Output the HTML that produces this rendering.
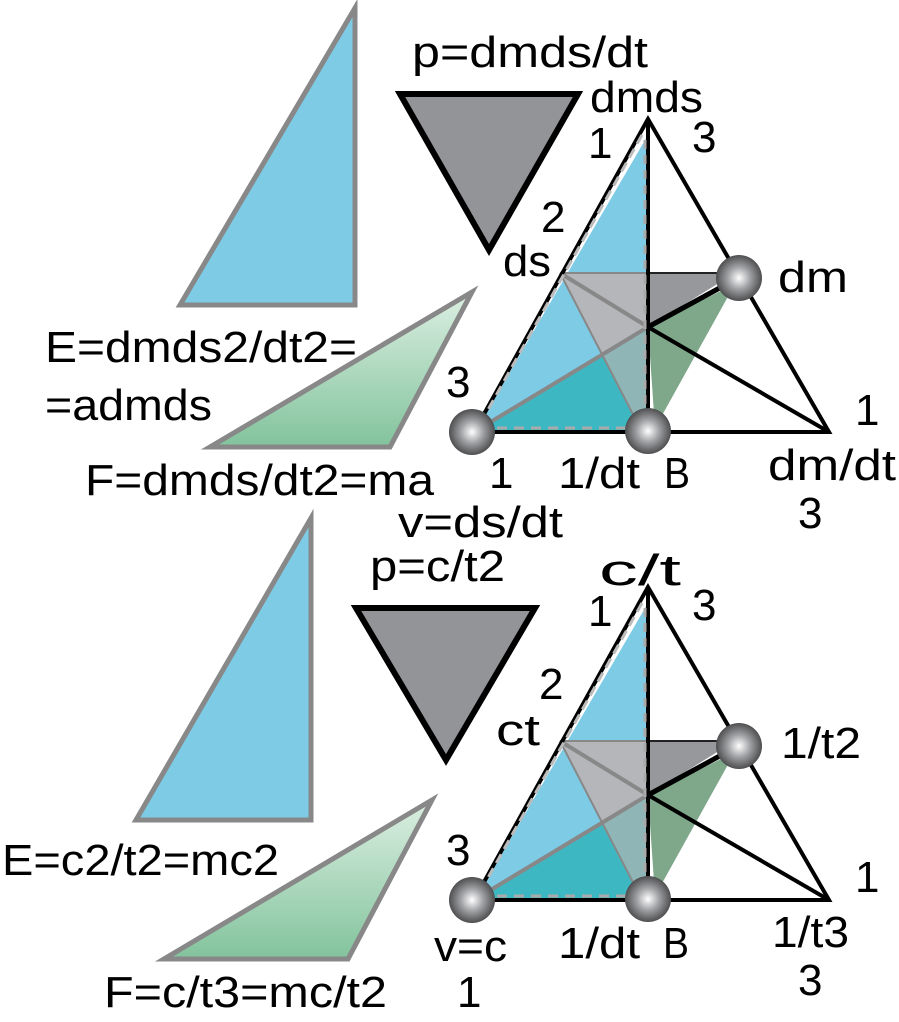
<!DOCTYPE html>
<html><head><meta charset="utf-8"><style>
html,body{margin:0;padding:0;background:#fff;}
svg{display:block;}
</style></head><body>
<svg width="899" height="1022" viewBox="0 0 899 1022" xmlns="http://www.w3.org/2000/svg">
<defs>
<radialGradient id="ball" cx="0.5" cy="0.5" r="0.55">
<stop offset="0" stop-color="#ffffff"/><stop offset="0.45" stop-color="#9fa0a3"/><stop offset="1" stop-color="#3e3e40"/>
</radialGradient>
<linearGradient id="grn" x1="0" y1="0" x2="0" y2="1">
<stop offset="0" stop-color="#dcefe2"/><stop offset="1" stop-color="#82c39c"/>
</linearGradient>
<g id="tet">
<polygon points="648,135 476,430 648,430" fill="#7ecbe6"/>
<polygon points="560,273 648,273 648,327 602,355" fill="#b4b6ba"/>
<polygon points="602,355 648,327 648,430 640,428" fill="#8fb5b6"/>
<polygon points="476,430 602,355 640,430" fill="#3db8c2"/>
<polygon points="648,273 735,273 648,327" fill="#97989c"/>
<polygon points="648,327 735,284 655,428" fill="#7fa88a"/>
<line x1="560" y1="273" x2="735" y2="273" stroke="#888" stroke-width="2"/>
<line x1="648" y1="273" x2="735" y2="273" stroke="#222" stroke-width="2"/>
<line x1="560" y1="273" x2="640" y2="428" stroke="#888" stroke-width="2"/>
<line x1="560" y1="273" x2="648" y2="327" stroke="#888" stroke-width="4"/>
<line x1="474" y1="432" x2="648" y2="327" stroke="#888" stroke-width="4"/>
<polygon points="648,119 474,432 829,432" fill="none" stroke="#000" stroke-width="4"/>
<line x1="648" y1="119" x2="648" y2="430" stroke="#000" stroke-width="4"/>
<line x1="645" y1="140" x2="645" y2="425" stroke="#aaa" stroke-width="3" stroke-dasharray="9,6"/>
<line x1="642" y1="135" x2="480" y2="424" stroke="#bbb" stroke-width="3" stroke-dasharray="10,6"/>
<line x1="480" y1="428" x2="640" y2="428" stroke="#aaa" stroke-width="3" stroke-dasharray="10,7"/>
<line x1="648" y1="327" x2="738" y2="278" stroke="#000" stroke-width="5"/>
<line x1="648" y1="327" x2="829" y2="432" stroke="#000" stroke-width="4"/>
<circle cx="472" cy="432" r="23" fill="url(#ball)"/>
<circle cx="648" cy="431" r="23" fill="url(#ball)"/>
<circle cx="739" cy="278" r="23" fill="url(#ball)"/>
</g>
</defs>
<polygon points="355,8 355,305 180,305" fill="#7ecbe6" stroke="#888" stroke-width="5"/>
<polygon points="472,292 390,447 210,447" fill="url(#grn)" stroke="#888" stroke-width="5"/>
<polygon points="400,94 578,94 489,250" fill="#939498" stroke="#000" stroke-width="6"/>
<use href="#tet"/>
<polygon points="311,518 311,820 136,820" fill="#7ecbe6" stroke="#888" stroke-width="5"/>
<polygon points="432,800 348,959 164,959" fill="url(#grn)" stroke="#888" stroke-width="5"/>
<polygon points="356,608 535,608 446,760" fill="#939498" stroke="#000" stroke-width="6"/>
<use href="#tet" transform="translate(0,468)"/>
<g font-family="Liberation Sans, sans-serif" font-size="44" fill="#000" style="font-family:'Liberation Sans',sans-serif;font-size:44px">
<text x="412" y="67" textLength="236" lengthAdjust="spacingAndGlyphs">p=dmds/dt</text>
<text x="590" y="112" textLength="113" lengthAdjust="spacingAndGlyphs">dmds</text>
<text x="588" y="158">1</text>
<text x="692" y="152">3</text>
<text x="541" y="232">2</text>
<text x="503" y="276" textLength="48" lengthAdjust="spacingAndGlyphs">ds</text>
<text x="778" y="292" textLength="70" lengthAdjust="spacingAndGlyphs">dm</text>
<text x="446" y="397">3</text>
<text x="855" y="425">1</text>
<text x="768" y="480" textLength="128" lengthAdjust="spacingAndGlyphs">dm/dt</text>
<text x="798" y="528">3</text>
<text x="489" y="488">1</text>
<text x="558" y="488" textLength="82" lengthAdjust="spacingAndGlyphs">1/dt</text>
<text x="664" y="488" textLength="26" lengthAdjust="spacingAndGlyphs">B</text>
<text x="45" y="362" textLength="312" lengthAdjust="spacingAndGlyphs">E=dmds2/dt2=</text>
<text x="45" y="420" textLength="167" lengthAdjust="spacingAndGlyphs">=admds</text>
<text x="85" y="495" textLength="349" lengthAdjust="spacingAndGlyphs">F=dmds/dt2=ma</text>
<text x="398" y="537" textLength="165" lengthAdjust="spacingAndGlyphs">v=ds/dt</text>
<text x="370" y="581" textLength="135" lengthAdjust="spacingAndGlyphs">p=c/t2</text>
<text x="599" y="585" textLength="82" lengthAdjust="spacingAndGlyphs">c/t</text>
<text x="588" y="626">1</text>
<text x="692" y="620">3</text>
<text x="539" y="699">2</text>
<text x="496" y="745" textLength="44" lengthAdjust="spacingAndGlyphs">ct</text>
<text x="781" y="758" textLength="80" lengthAdjust="spacingAndGlyphs">1/t2</text>
<text x="446" y="865">3</text>
<text x="855" y="892">1</text>
<text x="772" y="947" textLength="77" lengthAdjust="spacingAndGlyphs">1/t3</text>
<text x="798" y="995">3</text>
<text x="558" y="958" textLength="82" lengthAdjust="spacingAndGlyphs">1/dt</text>
<text x="663" y="958" textLength="26" lengthAdjust="spacingAndGlyphs">B</text>
<text x="434" y="961" textLength="73" lengthAdjust="spacingAndGlyphs">v=c</text>
<text x="457" y="1007">1</text>
<text x="2" y="875" textLength="277" lengthAdjust="spacingAndGlyphs">E=c2/t2=mc2</text>
<text x="104" y="1007" textLength="283" lengthAdjust="spacingAndGlyphs">F=c/t3=mc/t2</text>
</g>
</svg>
</body></html>
